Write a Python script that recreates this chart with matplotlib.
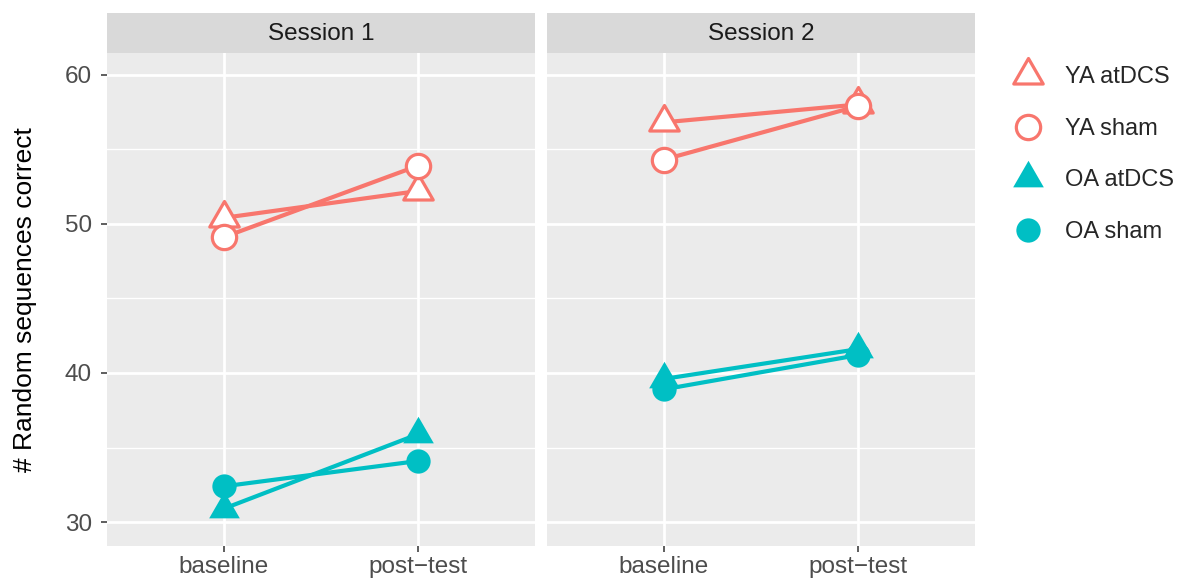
import matplotlib.pyplot as plt
from matplotlib.lines import Line2D
from matplotlib.path import Path

plt.rcParams['font.family'] = ['Liberation Sans', 'DejaVu Sans']

SALMON = '#F8766D'
TEAL = '#00BFC4'
PANEL_BG = '#EBEBEB'
STRIP_BG = '#D9D9D9'
TICK_TXT = '#4D4D4D'

timepoints = ['baseline', 'post\u2212test']
sessions = ['Session 1', 'Session 2']
groups = ['YA atDCS', 'YA sham', 'OA atDCS', 'OA sham']

# mean number of correct random sequences, [baseline, post-test]
ya_atdcs = {'Session 1': [50.4, 52.2], 'Session 2': [56.8, 58.0]}
ya_sham = {'Session 1': [49.1, 53.9], 'Session 2': [54.3, 57.9]}
oa_atdcs = {'Session 1': [30.9, 35.9], 'Session 2': [39.6, 41.6]}
oa_sham = {'Session 1': [32.4, 34.1], 'Session 2': [38.9, 41.2]}

series = [ya_atdcs, ya_sham, oa_atdcs, oa_sham]
colors = [SALMON, SALMON, TEAL, TEAL]
# equilateral triangle centred on its centroid, like ggplot's shapes 2 / 17
TRI = Path([(0, 1), (-0.866, -0.5), (0.866, -0.5), (0, 1)],
           [Path.MOVETO, Path.LINETO, Path.LINETO, Path.CLOSEPOLY])
markers = [TRI, 'o', TRI, 'o']
sizes = [24.5, 17.5, 25.5, 17.5]
hollow = [True, True, False, False]

W, H = 1189, 579
fig = plt.figure(figsize=(W / 100, H / 100), dpi=100)

panel_left = [107, 547]
panel_w = 428
top, bottom = 53, 546
strip_top = 13


def fx(px):
    return px / W


def fy(py):
    return 1 - py / H


def marker_style(c, m, s, hol):
    if hol:
        return dict(ls='none', marker=m, ms=s, mfc='white', mec=c, mew=2.3)
    return dict(ls='none', marker=m, ms=s, mfc=c, mec=c, mew=0)


for k, sess in enumerate(sessions):
    ax = fig.add_axes([fx(panel_left[k]), fy(bottom), fx(panel_w), (bottom - top) / H])
    ax.set_facecolor(PANEL_BG)
    for sp in ax.spines.values():
        sp.set_visible(False)
    x = range(len(timepoints))
    for vals, c, m, s, hol in zip(series, colors, markers, sizes, hollow):
        y = vals[sess]
        ax.plot(x, y, color=c, lw=3.0, zorder=3, solid_capstyle='butt')
        ax.plot(x, y, zorder=4, **marker_style(c, m, s, hol))
    ax.set_xlim(-0.6, 1.6)
    ax.set_ylim(28.4, 61.45)
    ax.set_xticks(list(x))
    ax.set_xticklabels(timepoints)
    ax.set_yticks([30, 40, 50, 60])
    ax.set_yticks([35, 45, 55], minor=True)
    ax.grid(True, which='major', color='white', lw=2.0)
    ax.grid(True, which='minor', axis='y', color='white', lw=1.0)
    ax.set_axisbelow(True)
    ax.tick_params(which='major', length=4, width=1.1, color='#333333',
                   labelsize=17.5, labelcolor=TICK_TXT, pad=3)
    ax.tick_params(axis='y', which='major', pad=7)
    ax.tick_params(which='minor', length=0)
    if k == 0:
        ax.set_ylabel('# Random sequences correct', fontsize=19, color='black', labelpad=20)
    else:
        ax.tick_params(axis='y', which='major', length=0, labelleft=False)

    # facet strip
    sax = fig.add_axes([fx(panel_left[k]), fy(top), fx(panel_w), (top - strip_top) / H])
    sax.set_facecolor(STRIP_BG)
    sax.set_xticks([])
    sax.set_yticks([])
    for sp in sax.spines.values():
        sp.set_visible(False)
    sax.text(0.5, 0.47, sess, ha='center', va='center', fontsize=17.5, color='#1A1A1A',
             transform=sax.transAxes)

handles = [Line2D([], [], **marker_style(c, m, s, hol))
           for c, m, s, hol in zip(colors, markers, sizes, hollow)]

fig.legend(handles, groups, loc='upper left', bbox_to_anchor=(fx(1000), fy(57)),
           frameon=False, fontsize=17, labelspacing=1.25, handletextpad=0.75,
           handlelength=1.6, borderaxespad=0, labelcolor='#262626')

fig.savefig('out.png', dpi=100)
